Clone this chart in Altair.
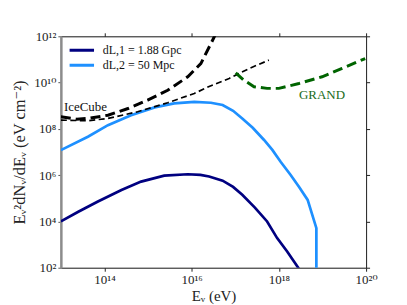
import altair as alt
import pandas as pd

# ---- data (log10 values) ----
navy_logE = [13.0, 13.4, 13.85, 14.39, 14.84, 15.37, 15.91, 16.2, 16.4, 16.71, 16.95, 17.16, 17.45, 17.73, 17.96, 18.19, 18.44, 18.6]
navy_logF = [4.0, 4.42, 4.86, 5.36, 5.72, 5.98, 6.04, 6.01, 5.94, 5.76, 5.49, 5.15, 4.6, 4.0, 3.28, 2.70, 2.01, 1.5]

blue_logE = [13.0, 13.62, 14.08, 14.61, 15.15, 15.6, 16.06, 16.44, 16.71, 16.95, 17.16, 17.4, 17.66, 17.85, 18.04, 18.27, 18.46, 18.66, 18.86, 18.86]
blue_logF = [7.08, 7.66, 8.16, 8.59, 8.93, 9.10, 9.17, 9.13, 9.03, 8.78, 8.45, 8.05, 7.52, 7.09, 6.58, 6.01, 5.50, 4.93, 3.71, 1.0]

ice_thick_logE = [13.0, 13.36, 13.62, 14.08, 14.54, 14.99, 15.45, 15.91, 16.21, 16.48, 16.6]
ice_thick_logF = [8.52, 8.42, 8.45, 8.59, 8.88, 9.24, 9.67, 10.25, 10.82, 11.83, 12.3]

ice_thin_logE = [13.0, 13.62, 14.08, 14.76, 15.45, 16.06, 16.4, 16.86, 17.32, 17.77]
ice_thin_logF = [8.38, 8.35, 8.45, 8.74, 9.13, 9.53, 9.83, 10.18, 10.61, 10.97]

grand_logE = [17.01, 17.2, 17.43, 17.73, 18.0, 18.46, 18.99, 19.45, 19.98]
grand_logF = [10.42, 10.1, 9.82, 9.75, 9.75, 9.96, 10.25, 10.61, 11.04]

legend_labels = ["dL,1 = 1.88 Gpc", "dL,2 = 50 Mpc"]
legend_colors = ["#000080", "#1e90ff"]

note_text = ["IceCube", "GRAND"]
note_logE = [13.07, 18.46]
note_logF = [8.94, 9.46]
note_color = ["#111111", "#1a6b1a"]

x_tick_exps = [14, 16, 18, 20]
y_tick_exps = [2, 4, 6, 8, 10, 12]
SUP = {"0": "⁰", "1": "¹", "2": "²", "3": "³", "4": "⁴", "5": "⁵", "6": "⁶", "7": "⁷", "8": "⁸", "9": "⁹"}


def sup(n):
    return "".join(SUP[c] for c in str(n))


def label_expr(exps):
    expr = "''"
    for e in reversed(exps):
        expr = f"datum.value == 1e{e} ? '10{sup(e)}' : ({expr})"
    return expr


def frame(name, le, lf):
    return pd.DataFrame({"series": name,
                         "E": [10 ** v for v in le],
                         "F": [10 ** v for v in lf],
                         "order": list(range(len(le)))})


solid = pd.concat([frame(legend_labels[0], navy_logE, navy_logF),
                   frame(legend_labels[1], blue_logE, blue_logF)])
thick = frame("thick", ice_thick_logE, ice_thick_logF)
thin = frame("thin", ice_thin_logE, ice_thin_logF)
grand = frame("grand", grand_logE, grand_logF)
notes = pd.DataFrame({"text": note_text,
                      "E": [10 ** v for v in note_logE],
                      "F": [10 ** v for v in note_logF],
                      "color": note_color})

FONT = "'Liberation Serif', 'DejaVu Serif', serif"
xs = alt.Scale(type="log", domain=[1e13, 1e20], nice=False, zero=False)
ys = alt.Scale(type="log", domain=[1e2, 1e12], nice=False, zero=False)
xvals = [10.0 ** e for e in x_tick_exps]
yvals = [10.0 ** e for e in y_tick_exps]

x_bottom = alt.Axis(orient="bottom", values=xvals, labelExpr=label_expr(x_tick_exps),
                    title="Eᵥ (eV)", titleFont=FONT, titleFontSize=15, titleFontWeight="normal",
                    titleColor="#222", titlePadding=2,
                    labelFont=FONT, labelFontSize=13, labelColor="#222", labelPadding=2,
                    tickSize=3.5, tickColor="#222", domainColor="#222", grid=False, labelFlush=False)
y_left = alt.Axis(orient="left", values=yvals, labelExpr=label_expr(y_tick_exps),
                  title="Eᵥ²dNᵥ/dEᵥ (eV cm⁻²)", titleFont=FONT, titleFontSize=16.5,
                  titleFontWeight="normal", titleColor="#222", titlePadding=6,
                  labelFont=FONT, labelFontSize=13, labelColor="#222", labelPadding=2,
                  tickSize=3, tickColor="#555", domainColor="#8c8c8c", domainWidth=2.5,
                  grid=False, labelFlush=False)
x_top = alt.Axis(orient="top", values=xvals, labels=False, title=None, tickSize=3.5,
                 tickColor="#222", domainColor="#222", grid=False)
y_right = alt.Axis(orient="right", values=yvals, labels=False, title=None, tickSize=3.5,
                   tickColor="#222", domainColor="#222", grid=False)

solid_layer = alt.Chart(solid).mark_line(strokeWidth=2.7, clip=True).encode(
    x=alt.X("E:Q", scale=xs, axis=x_bottom),
    y=alt.Y("F:Q", scale=ys, axis=y_left),
    order="order:Q",
    color=alt.Color("series:N",
                    scale=alt.Scale(domain=legend_labels, range=legend_colors),
                    legend=alt.Legend(orient="none", legendX=7, legendY=8, title=None,
                                      symbolType="stroke", symbolSize=600, symbolStrokeWidth=3,
                                      clipHeight=12, rowPadding=3,
                                      labelFont=FONT, labelFontSize=12, labelColor="#111",
                                      labelOffset=7)),
)

# invisible layer that only carries the top and right axes
frame_layer = alt.Chart(thin).mark_line(opacity=0, clip=True).encode(
    x=alt.X("E:Q", scale=xs, axis=x_top),
    y=alt.Y("F:Q", scale=ys, axis=y_right),
)

thick_layer = alt.Chart(thick).mark_line(strokeWidth=3, color="black", strokeDash=[10, 5], clip=True).encode(
    x=alt.X("E:Q", scale=xs),
    y=alt.Y("F:Q", scale=ys),
    order="order:Q",
)
thin_layer = alt.Chart(thin).mark_line(strokeWidth=1.7, color="black", strokeDash=[6, 3.5], clip=True).encode(
    x=alt.X("E:Q", scale=xs),
    y=alt.Y("F:Q", scale=ys),
    order="order:Q",
)
grand_layer = alt.Chart(grand).mark_line(strokeWidth=3, color="#006400", strokeDash=[10, 5], clip=True).encode(
    x=alt.X("E:Q", scale=xs),
    y=alt.Y("F:Q", scale=ys),
    order="order:Q",
)
note_layer = alt.Chart(notes).mark_text(align="left", baseline="middle", font=FONT, fontSize=13).encode(
    x=alt.X("E:Q", scale=xs),
    y=alt.Y("F:Q", scale=ys),
    text="text:N",
    color=alt.Color("color:N", scale=None),
)

main = alt.layer(solid_layer, thick_layer, thin_layer, grand_layer, note_layer)

chart = alt.layer(main, frame_layer).resolve_axis(
    x="independent", y="independent"
).properties(
    width=306, height=232,
    padding={"left": 53, "top": 28, "right": 33, "bottom": 37},
    autosize=alt.AutoSizeParams(type="none"),
).configure_view(stroke=None).configure(background="white")

chart.save("out.html", embed_options={"renderer": "svg", "actions": False})
